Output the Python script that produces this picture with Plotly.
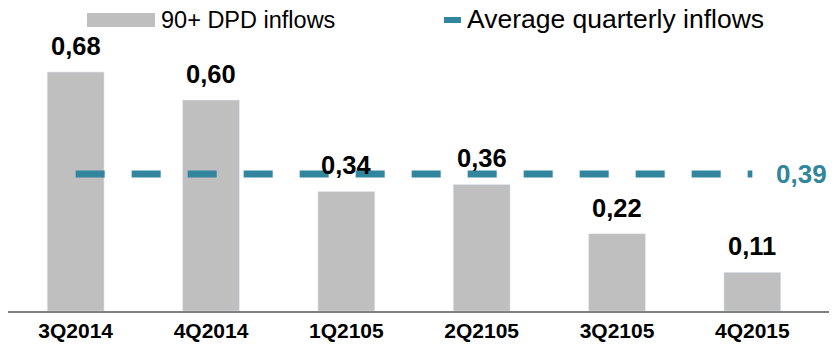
import plotly.graph_objects as go

categories = ["3Q2014", "4Q2014", "1Q2105", "2Q2105", "3Q2105", "4Q2015"]
inflows = [0.68, 0.60, 0.34, 0.36, 0.22, 0.11]
average = 0.39
inflow_labels = ["0,68", "0,60", "0,34", "0,36", "0,22", "0,11"]
average_label = "0,39"
series_names = ["90+ DPD inflows", "Average quarterly inflows"]

BAR = "#BFBFBF"
TEAL = "#31859C"
FONT = "Arial, Liberation Sans, sans-serif"

FW, FH = 837, 347

fig = go.Figure()
fig.add_trace(go.Bar(x=categories, y=inflows, marker_color=BAR, width=0.42,
                     name=series_names[0], showlegend=False, hoverinfo="skip"))
fig.add_trace(go.Scatter(x=categories, y=[average] * len(categories), mode="lines",
                         line=dict(color=TEAL, width=7, dash="29px,27px"),
                         name=series_names[1], showlegend=False, hoverinfo="skip"))

for c, v, t in zip(categories, inflows, inflow_labels):
    fig.add_annotation(x=c, y=v, text="<b>%s</b>" % t, showarrow=False,
                       xanchor="center", yanchor="bottom", yshift=10,
                       font=dict(family=FONT, size=25.5, color="black"))

fig.add_annotation(x=5.16, y=average, text="<b>%s</b>" % average_label, showarrow=False,
                   xanchor="left", yanchor="middle",
                   font=dict(family=FONT, size=26, color=TEAL))

# plot area in page pixels: x 8..829, y 10..311
L, W, T, H = 8, 821, 10, 301
def px(xp):
    return (xp - L) / W
def py(yp):
    return (T + H - yp) / H

# custom legend
fig.add_shape(type="rect", xref="paper", yref="paper", x0=px(87), x1=px(155),
              y0=py(27), y1=py(13), fillcolor=BAR, line_width=0)
fig.add_annotation(xref="paper", yref="paper", x=px(159), y=py(20), text=series_names[0],
                   showarrow=False, xanchor="left", yanchor="middle",
                   font=dict(family=FONT, size=23.5, color="black"))
fig.add_shape(type="line", xref="paper", yref="paper", x0=px(444), x1=px(461),
              y0=py(20), y1=py(20), line=dict(color=TEAL, width=6))
fig.add_annotation(xref="paper", yref="paper", x=px(465), y=py(19), text=series_names[1],
                   showarrow=False, xanchor="left", yanchor="middle",
                   font=dict(family=FONT, size=26.5, color="black"))

fig.update_layout(
    width=FW, height=FH,
    margin=dict(l=L, r=FW - L - W, t=T, b=FH - T - H),
    paper_bgcolor="white", plot_bgcolor="white",
    hovermode=False,
    xaxis=dict(type="category", showline=True, linecolor="#808080", linewidth=2,
               ticks="", showgrid=False, zeroline=False, automargin=False,
               tickfont=dict(family=FONT, size=21, color="black"),
               tickprefix="<b>", ticksuffix="</b>"),
    yaxis=dict(range=[0, H / 351.5], visible=False, showgrid=False, zeroline=False,
               automargin=False),
)

fig.write_html("out.html", config={"displayModeBar": False},
               post_script="document.body.style.margin='0';")
